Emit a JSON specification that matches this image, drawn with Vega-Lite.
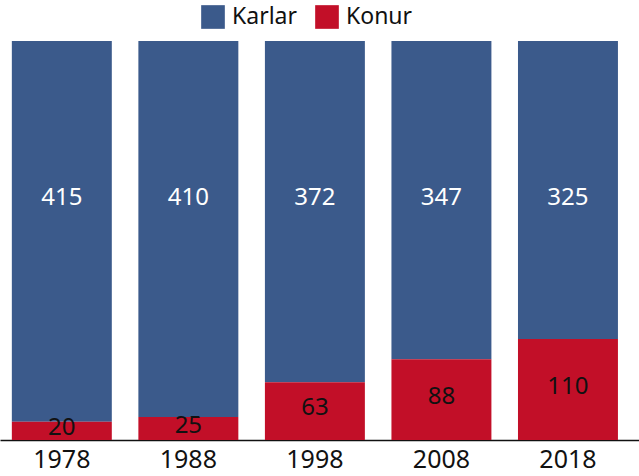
{
  "$schema": "https://vega.github.io/schema/vega-lite/v6.json",
  "width": 639,
  "height": 399,
  "autosize": {"type": "none"},
  "padding": {"left": 0, "top": 41, "right": 0, "bottom": 36},
  "background": "white",
  "config": {
    "view": {"stroke": null},
    "font": "Noto Sans"
  },
  "data": {
    "values": [
      {"year": "1978", "category": "Karlar", "value": 415},
      {"year": "1978", "category": "Konur", "value": 20},
      {"year": "1988", "category": "Karlar", "value": 410},
      {"year": "1988", "category": "Konur", "value": 25},
      {"year": "1998", "category": "Karlar", "value": 372},
      {"year": "1998", "category": "Konur", "value": 63},
      {"year": "2008", "category": "Karlar", "value": 347},
      {"year": "2008", "category": "Konur", "value": 88},
      {"year": "2018", "category": "Karlar", "value": 325},
      {"year": "2018", "category": "Konur", "value": 110}
    ]
  },
  "encoding": {
    "x": {
      "field": "year",
      "type": "nominal",
      "title": null,
      "scale": {"paddingInner": 0.21, "paddingOuter": 0.13, "align": 0.36},
      "axis": {
        "labelAngle": 0,
        "labelFontSize": 25,
        "labelColor": "#111",
        "labelPadding": 7,
        "ticks": false,
        "domainColor": "#111",
        "domainWidth": 1.5
      }
    }
  },
  "layer": [
    {
      "mark": {"type": "bar"},
      "encoding": {
        "y": {
          "field": "value",
          "type": "quantitative",
          "stack": "zero",
          "scale": {"domain": [0, 435], "nice": false},
          "axis": null
        },
        "color": {
          "field": "category",
          "type": "nominal",
          "scale": {"domain": ["Karlar", "Konur"], "range": ["#3b5a8b", "#c20f28"]},
          "legend": {
            "title": null,
            "orient": "none",
            "direction": "horizontal",
            "legendX": 201,
            "legendY": -36,
            "symbolType": "square",
            "symbolSize": 560,
            "symbolStrokeWidth": 0,
            "labelFontSize": 23,
            "labelColor": "#111",
            "labelOffset": 7,
            "columnPadding": 18
          }
        },
        "order": {"field": "category", "sort": "descending"}
      }
    },
    {
      "transform": [{"filter": "datum.category === 'Karlar'"}],
      "mark": {"type": "text", "fontSize": 24, "color": "white", "baseline": "middle"},
      "encoding": {
        "y": {"datum": 264, "type": "quantitative"},
        "text": {"field": "value", "type": "quantitative"}
      }
    },
    {
      "transform": [
        {"filter": "datum.category === 'Konur'"},
        {"calculate": "datum.value / 2", "as": "mid"}
      ],
      "mark": {"type": "text", "fontSize": 24, "color": "#111", "baseline": "middle", "dy": -3},
      "encoding": {
        "y": {"field": "mid", "type": "quantitative"},
        "text": {"field": "value", "type": "quantitative"}
      }
    }
  ]
}
